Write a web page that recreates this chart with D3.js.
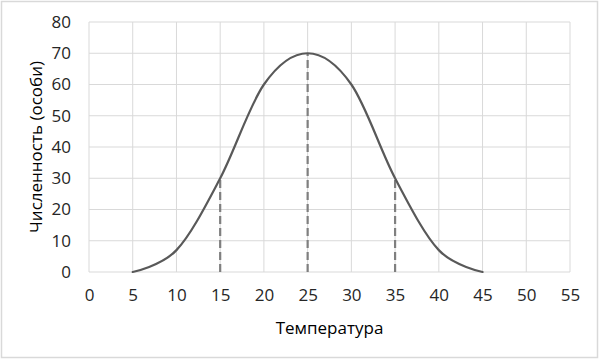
<!DOCTYPE html>
<html><head><meta charset="utf-8">
<script src="https://cdn.jsdelivr.net/npm/d3@7"></script>
<style>body{margin:0;background:#fff}svg{display:block}</style>
</head><body><svg id="c" width="599" height="360"></svg>
<script>
const temps = [5, 10, 15, 20, 25, 30, 35, 40, 45];
const counts = [0, 7, 30, 60, 70, 60, 30, 7, 0];
const dashX = [15, 25, 35];
const dashY = [30, 70, 30];
const xTicks = [0,5,10,15,20,25,30,35,40,45,50,55];
const yTicks = [0,10,20,30,40,50,60,70,80];
const xTitle = "Температура";
const yTitle = "Численность (особи)";

const svg = d3.select("#c");
const font = "'Open Sans', 'Liberation Sans', sans-serif";
svg.append("rect").attr("x",1.5).attr("y",1.5).attr("width",596).attr("height",356)
  .attr("fill","#fff").attr("stroke","#d9d9d9").attr("stroke-width",1.5);

const x = d3.scaleLinear().domain([0,55]).range([89,570]);
const y = d3.scaleLinear().domain([0,80]).range([272,22]);

const g = svg.append("g");
g.selectAll(".vx").data(xTicks).join("line")
  .attr("x1",d=>x(d)).attr("x2",d=>x(d)).attr("y1",y(0)).attr("y2",y(80))
  .attr("stroke","#d9d9d9").attr("stroke-width",1);
g.selectAll(".hy").data(yTicks).join("line")
  .attr("x1",x(0)).attr("x2",x(55)).attr("y1",d=>y(d)).attr("y2",d=>y(d))
  .attr("stroke","#d9d9d9").attr("stroke-width",1);

const xa = svg.append("g").attr("transform",`translate(0,${y(0)})`)
  .call(d3.axisBottom(x).tickValues(xTicks).tickSize(0).tickPadding(17));
xa.select(".domain").remove();
xa.selectAll("text").attr("font-family",font).attr("font-size",17).attr("fill","#262626");
const ya = svg.append("g").attr("transform",`translate(${x(0)},0)`)
  .call(d3.axisLeft(y).tickValues(yTicks).tickSize(0).tickPadding(18));
ya.select(".domain").remove();
ya.selectAll("text").attr("font-family",font).attr("font-size",17).attr("fill","#262626");

svg.selectAll(".dash").data(dashX).join("line")
  .attr("x1",d=>x(d)).attr("x2",d=>x(d)).attr("y1",y(0)).attr("y2",(d,i)=>y(dashY[i]))
  .attr("stroke","#7f7f7f").attr("stroke-width",2.2).attr("stroke-dasharray","8,4");

const line = d3.line().x((d,i)=>x(temps[i])).y(d=>y(d)).curve(d3.curveCatmullRom.alpha(0));
svg.append("path").datum(counts).attr("d",line).attr("fill","none")
  .attr("stroke","#595959").attr("stroke-width",2.2).attr("stroke-linecap","round");

svg.append("text").attr("x",(x(0)+x(55))/2).attr("y",334).attr("text-anchor","middle")
  .attr("font-family",font).attr("font-size",17).attr("fill","#000").text(xTitle);
svg.append("text").attr("transform",`translate(42,${(y(0)+y(80))/2}) rotate(-90)`)
  .attr("text-anchor","middle").attr("font-family",font).attr("font-size",17).attr("fill","#000").text(yTitle);
</script></body></html>
